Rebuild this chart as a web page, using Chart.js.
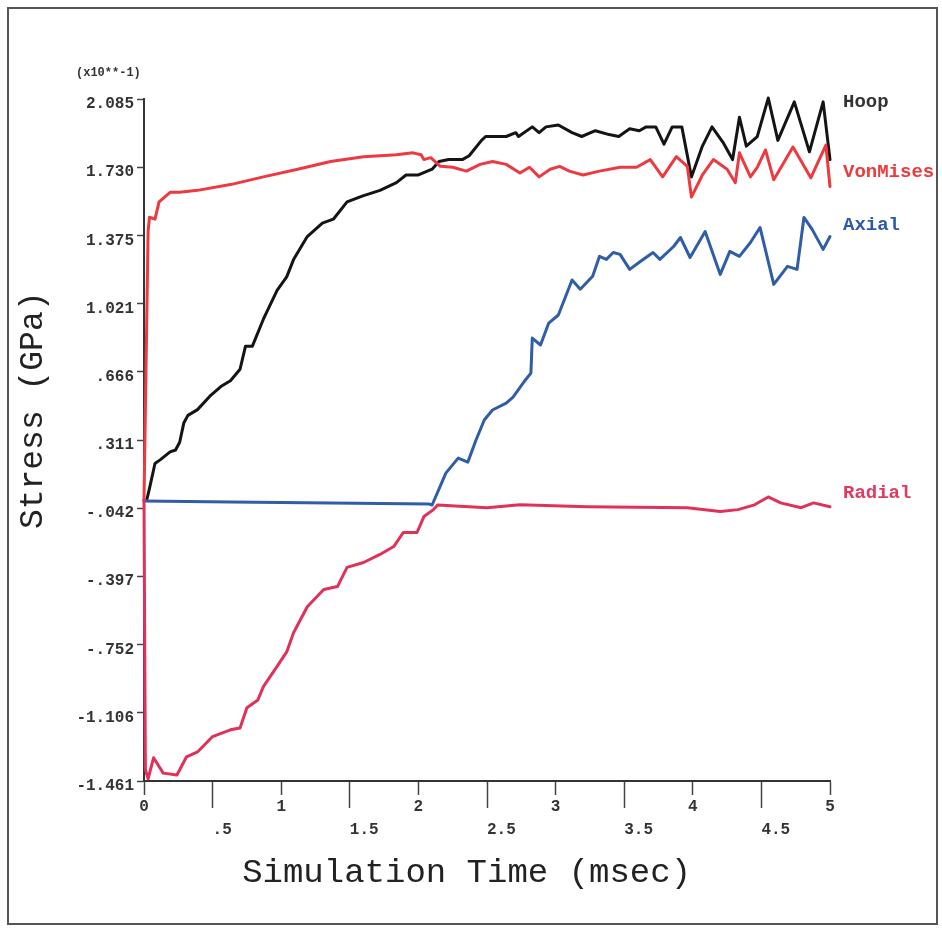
<!DOCTYPE html>
<html>
<head>
<meta charset="utf-8">
<title>Stress vs Simulation Time</title>
<script src="https://cdn.jsdelivr.net/npm/chart.js@4/dist/chart.umd.min.js"></script>
<style>
    html, body { margin: 0; padding: 0; background: #fff; overflow: hidden; }
    #wrap { position: relative; width: 942px; height: 931px; }
    #frame {
        position: absolute; left: 7px; top: 7px; width: 927px; height: 914px;
        border: 2px solid #555; pointer-events: none;
    }
</style>
</head>
<body>
<div id="wrap">
    <canvas id="chart" width="942" height="931"></canvas>
    <div id="frame"></div>
</div>
<script>
// series names, in drawing order of the end labels
const seriesNames = ['Hoop', 'VonMises', 'Axial', 'Radial'];

// axis ticks
const xTickValues = [0, 0.5, 1, 1.5, 2, 2.5, 3, 3.5, 4, 4.5, 5];
const xTickLabels = ['0', '.5', '1', '1.5', '2', '2.5', '3', '3.5', '4', '4.5', '5'];
const yTickValues = [-1.461, -1.106, -0.752, -0.397, -0.042, 0.311, 0.666, 1.021, 1.375, 1.730, 2.085];
const yTickLabels = ['-1.461', '-1.106', '-.752', '-.397', '-.042', '.311', '.666', '1.021', '1.375', '1.730', '2.085'];
const yExponent = '(x10**-1)';

// Hoop stress
const hoopTime = [0.02, 0.04, 0.08, 0.12, 0.19, 0.23, 0.26, 0.29, 0.32, 0.39, 0.48, 0.56, 0.63, 0.70, 0.74,
    0.79, 0.87, 0.97, 1.04, 1.09, 1.19, 1.30, 1.38, 1.48, 1.59, 1.72, 1.84, 1.91, 2.00, 2.10, 2.15, 2.22,
    2.32, 2.37, 2.46, 2.49, 2.64, 2.71, 2.73, 2.83, 2.88, 2.93, 3.02, 3.12, 3.19, 3.29, 3.39, 3.46, 3.54,
    3.61, 3.66, 3.73, 3.79, 3.85, 3.92, 3.99, 4.07, 4.14, 4.22, 4.29, 4.34, 4.39, 4.47, 4.55, 4.62, 4.74,
    4.85, 4.95, 5.00];
const hoopStress = [0.00, 0.06, 0.19, 0.21, 0.25, 0.26, 0.30, 0.40, 0.44, 0.47, 0.54, 0.59, 0.62, 0.68, 0.80,
    0.80, 0.94, 1.09, 1.16, 1.25, 1.37, 1.44, 1.46, 1.55, 1.58, 1.61, 1.65, 1.69, 1.69, 1.72, 1.76, 1.77,
    1.77, 1.79, 1.87, 1.89, 1.89, 1.91, 1.89, 1.94, 1.91, 1.94, 1.95, 1.91, 1.89, 1.92, 1.90, 1.89, 1.93,
    1.92, 1.94, 1.94, 1.85, 1.94, 1.94, 1.68, 1.84, 1.94, 1.86, 1.77, 1.99, 1.84, 1.89, 2.09, 1.87, 2.07,
    1.81, 2.07, 1.77];

// Von Mises stress
const vonMisesTime = [0.00, 0.03, 0.04, 0.08, 0.11, 0.19, 0.26, 0.39, 0.63, 0.87, 1.12, 1.36, 1.60, 1.84,
    1.96, 2.02, 2.04, 2.09, 2.16, 2.25, 2.35, 2.45, 2.54, 2.64, 2.74, 2.81, 2.88, 2.96, 3.03, 3.10, 3.20,
    3.32, 3.47, 3.59, 3.69, 3.78, 3.88, 3.96, 3.99, 4.07, 4.15, 4.25, 4.31, 4.34, 4.42, 4.47, 4.53, 4.59,
    4.73, 4.86, 4.97, 5.00];
const vonMisesStress = [0.00, 1.40, 1.47, 1.46, 1.55, 1.60, 1.60, 1.61, 1.64, 1.68, 1.72, 1.76, 1.785, 1.795,
    1.805, 1.795, 1.77, 1.78, 1.735, 1.73, 1.71, 1.745, 1.76, 1.745, 1.70, 1.73, 1.68, 1.72, 1.735, 1.71, 1.69,
    1.71, 1.73, 1.73, 1.77, 1.68, 1.785, 1.735, 1.575, 1.69, 1.77, 1.72, 1.65, 1.805, 1.68, 1.73, 1.82, 1.665,
    1.835, 1.675, 1.845, 1.63];

// Axial stress
const axialTime = [0.00, 0.63, 1.36, 2.08, 2.10, 2.20, 2.29, 2.36, 2.42, 2.48, 2.54, 2.64, 2.69, 2.78, 2.82,
    2.83, 2.89, 2.95, 3.02, 3.12, 3.18, 3.27, 3.32, 3.37, 3.42, 3.47, 3.54, 3.61, 3.71, 3.76, 3.86, 3.91,
    3.98, 4.09, 4.20, 4.27, 4.34, 4.42, 4.49, 4.59, 4.69, 4.76, 4.81, 4.87, 4.95, 5.00];
const axialStress = [-0.005, -0.011, -0.016, -0.021, -0.026, 0.140, 0.218, 0.197, 0.312, 0.416, 0.468, 0.504,
    0.535, 0.624, 0.660, 0.842, 0.806, 0.920, 0.962, 1.144, 1.096, 1.163, 1.267, 1.251, 1.287, 1.277, 1.199,
    1.236, 1.287, 1.251, 1.318, 1.365, 1.261, 1.396, 1.173, 1.293, 1.267, 1.339, 1.417, 1.121, 1.215, 1.199,
    1.469, 1.407, 1.303, 1.370];

// Radial stress
const radialTime = [0.00, 0.01, 0.03, 0.07, 0.14, 0.24, 0.31, 0.39, 0.50, 0.63, 0.70, 0.75, 0.83, 0.87, 0.97,
    1.04, 1.09, 1.19, 1.31, 1.41, 1.48, 1.60, 1.72, 1.82, 1.89, 1.99, 2.04, 2.11, 2.14, 2.50, 2.74, 3.23,
    3.96, 4.20, 4.33, 4.45, 4.55, 4.64, 4.79, 4.88, 5.00];
const radialStress = [0.00, -1.40, -1.45, -1.34, -1.42, -1.43, -1.335, -1.31, -1.23, -1.195, -1.185, -1.08,
    -1.04, -0.97, -0.865, -0.79, -0.69, -0.555, -0.465, -0.45, -0.35, -0.325, -0.283, -0.242, -0.169, -0.169,
    -0.086, -0.05, -0.026, -0.04, -0.025, -0.035, -0.04, -0.06, -0.05, -0.025, 0.016, -0.015, -0.04, -0.015,
    -0.035];

function toPoints(times, values) {
    return times.map((t, i) => ({ x: t, y: values[i] }));
}

const lineColors = ['#141414', '#ec3a40', '#2f5da8', '#e0315b'];
const labelColors = ['#333333', '#ee3a3a', '#2d5aa6', '#e2395d'];

// names written at the right end of each curve
const endLabels = {
    id: 'endLabels',
    afterDraw(chart, args, opts) {
        const { ctx, chartArea, scales } = chart;
        ctx.save();
        ctx.textAlign = 'left';
        ctx.textBaseline = 'middle';
        ctx.font = 'bold 19px "Liberation Mono"';
        seriesNames.forEach((name, i) => {
            ctx.fillStyle = labelColors[i];
            ctx.fillText(name, chartArea.right + 13, scales.y.getPixelForValue(opts.anchors[i]));
        });
        // exponent note above the y axis
        ctx.font = 'bold 12px "Liberation Mono"';
        ctx.fillStyle = '#333';
        ctx.fillText(yExponent, 76, 73);
        ctx.restore();
    }
};

const tickFont = { family: 'Liberation Mono', size: 16, weight: 'bold' };

const ctx = document.getElementById('chart').getContext('2d');
const chart = new Chart(ctx, {
    type: 'line',
    data: {
        datasets: [
            { label: 'Radial', data: toPoints(radialTime, radialStress), borderColor: lineColors[3] },
            { label: 'Axial', data: toPoints(axialTime, axialStress), borderColor: lineColors[2] },
            { label: 'VonMises', data: toPoints(vonMisesTime, vonMisesStress), borderColor: lineColors[1] },
            { label: 'Hoop', data: toPoints(hoopTime, hoopStress), borderColor: lineColors[0] }
        ]
    },
    plugins: [endLabels],
    options: {
        responsive: false,
        animation: false,
        devicePixelRatio: 1,
        layout: { padding: { top: 99, right: 112, bottom: 0, left: 0 } },
        elements: {
            point: { radius: 0 },
            line: { borderWidth: 3, tension: 0, borderJoinStyle: 'round', borderCapStyle: 'round' }
        },
        datasets: { line: { clip: false } },
        plugins: {
            legend: { display: false },
            tooltip: { enabled: false },
            endLabels: { anchors: [2.07, 1.705, 1.43, 0.036] }
        },
        scales: {
            x: {
                type: 'linear',
                min: 0,
                max: 5,
                afterBuildTicks: axis => { axis.ticks = xTickValues.map(v => ({ value: v })); },
                afterFit: scale => { scale.height = 150; },
                border: { display: true, color: '#333', width: 2 },
                grid: {
                    drawOnChartArea: false,
                    drawTicks: true,
                    tickLength: 27,
                    tickColor: '#444',
                    tickWidth: 1.5,
                    // whole numbers get a short tick, halves a long one
                    tickBorderDash: c => (c.index % 2 === 0 ? [13, 100] : [])
                },
                ticks: {
                    autoSkip: false,
                    maxRotation: 0,
                    padding: -13,
                    color: '#333',
                    font: { family: 'Liberation Mono', size: 16, weight: 'bold', lineHeight: 1.45 },
                    callback: (value, index) => {
                        const label = xTickLabels[index];
                        if (index % 2 === 0) return label;
                        return ['', ' '.repeat(label.length) + label];
                    }
                },
                title: {
                    display: true,
                    text: 'Simulation Time (msec)  ',
                    color: '#222',
                    font: { family: 'Liberation Mono', size: 34, lineHeight: 1.2 },
                    padding: { top: 0, bottom: 38 }
                }
            },
            y: {
                type: 'linear',
                min: -1.461,
                max: 2.085,
                afterBuildTicks: axis => { axis.ticks = yTickValues.map(v => ({ value: v })); },
                afterFit: scale => { scale.width = 144; },
                border: { display: true, color: '#333', width: 2 },
                grid: {
                    drawOnChartArea: false,
                    drawTicks: true,
                    tickLength: 7,
                    tickColor: '#444',
                    tickWidth: 1.5
                },
                ticks: {
                    autoSkip: false,
                    padding: 3,
                    labelOffset: 5,
                    color: '#333',
                    font: tickFont,
                    callback: (value, index) => yTickLabels[index]
                },
                title: {
                    display: true,
                    text: '   Stress (GPa)',
                    color: '#222',
                    font: { family: 'Liberation Mono', size: 33, lineHeight: 1.2 },
                    padding: { top: 13, bottom: 0 }
                }
            }
        }
    }
});
</script>
</body>
</html>
